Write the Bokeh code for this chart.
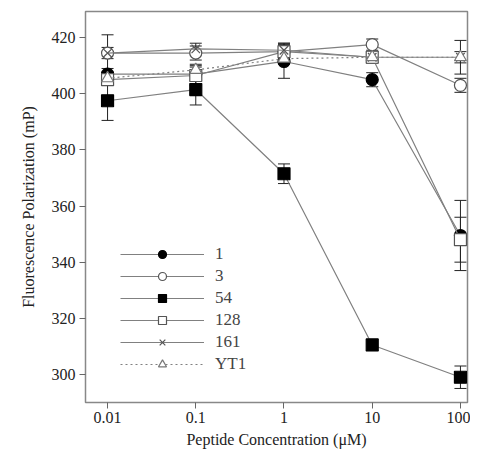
from bokeh.plotting import figure
from bokeh.models import ColumnDataSource, Whisker, TeeHead, FixedTicker, Legend, LegendItem
from bokeh.embed import file_html
from bokeh.resources import INLINE

conc = [0.01, 0.1, 1, 10, 100]
tick_labels = ["0.01", "0.1", "1", "10", "100"]
y_ticks = [300, 320, 340, 360, 380, 400, 420]

names = ["1", "3", "54", "128", "161", "YT1"]
s1 = [407, 407, 411.5, 405, 349.5]
e1 = [2, 2.5, 6, 2.5, 12.5]
s3 = [414.5, 414.5, 415, 417.5, 403]
e3 = [2, 2.5, 2, 2, 2.5]
s54 = [397.5, 401.5, 371.5, 310.5, 299]
e54 = [7, 5.5, 3.5, 2, 4]
s128 = [405, 406.5, 415, 413, 348]
e128 = [2, 3.5, 3, 2, 8]
s161 = [414.5, 416, 415.5, 413, 413]
e161 = [6.5, 2, 2.5, 2, 2]
syt1 = [405.5, 408.5, 412.5, 413, 413]
eyt1 = [2, 2, 2, 2, 6]

series = [s1, s3, s54, s128, s161, syt1]
errs = [e1, e3, e54, e128, e161, eyt1]
markers = ["circle", "circle", "square", "square", "x", "triangle"]
fills = ["black", "white", "black", "white", "white", "white"]
mcolors = ["black", "#555555", "black", "#555555", "#555555", "#777777"]
dashes = ["solid", "solid", "solid", "solid", "solid", "2 3"]
msizes = [12, 12, 12, 12, 12, 12]

FONT = "Liberation Serif"

p = figure(width=470, height=450, x_axis_type="log", x_range=(10**-2.25, 10**2.08),
           y_range=(290, 429.3), output_backend="svg", toolbar_location=None,
           min_border_left=85, min_border_right=3, min_border_top=11, min_border_bottom=40)
p.grid.visible = False
p.outline_line_color = "#888888"
p.outline_line_width = 1.5
p.background_fill_color = "white"
p.border_fill_color = "white"

items = []
for name, ys, es, mk, fc, mc, ds, ms in zip(names, series, errs, markers, fills, mcolors, dashes, msizes):
    src = ColumnDataSource(dict(x=conc, y=ys, lo=[y - e for y, e in zip(ys, es)], hi=[y + e for y, e in zip(ys, es)]))
    w = Whisker(base="x", upper="hi", lower="lo", source=src, line_color="#222222", line_width=1,
                upper_head=TeeHead(size=12, line_color="#222222", line_width=1),
                lower_head=TeeHead(size=12, line_color="#222222", line_width=1))
    p.add_layout(w)
    ln = p.line("x", "y", source=src, line_color="#808080", line_width=1.2, line_dash=ds)
    sc = p.scatter("x", "y", source=src, marker=mk, size=ms, fill_color=fc, line_color=mc, line_width=1.2)
    items.append(LegendItem(label=name, renderers=[ln, sc]))

legend = Legend(items=items, location=(35, 28), glyph_width=84, glyph_height=20, spacing=2,
                label_standoff=11, padding=0, margin=0, border_line_color=None,
                background_fill_alpha=0, label_text_font=FONT, label_text_font_size="17px",
                label_height=20)
p.add_layout(legend, "center")

p.xaxis.ticker = FixedTicker(ticks=conc)
p.xaxis.major_label_overrides = {c: t for c, t in zip(conc, tick_labels)}
p.yaxis.ticker = FixedTicker(ticks=y_ticks)
p.xaxis.minor_tick_line_color = None
p.yaxis.minor_tick_line_color = None
for ax in (p.xaxis, p.yaxis):
    ax.axis_line_color = None
    ax.major_tick_line_color = "#666666"
    ax.major_tick_out = 6
    ax.major_tick_in = 0
    ax.major_label_text_font = FONT
    ax.major_label_text_font_size = "16px"
    ax.major_label_text_color = "#222222"
    ax.axis_label_text_font = FONT
    ax.axis_label_text_font_size = "16px"
    ax.axis_label_text_font_style = "normal"
    ax.axis_label_text_color = "#222222"
p.xaxis.axis_label = "Peptide Concentration (μM)"
p.yaxis.axis_label = "Fluorescence Polarization (mP)"
p.xaxis.major_label_standoff = 3
p.xaxis.axis_label_standoff = 5
p.yaxis.major_label_standoff = 4
p.yaxis.axis_label_standoff = 12

open("out.html", "w").write(file_html(p, INLINE))
